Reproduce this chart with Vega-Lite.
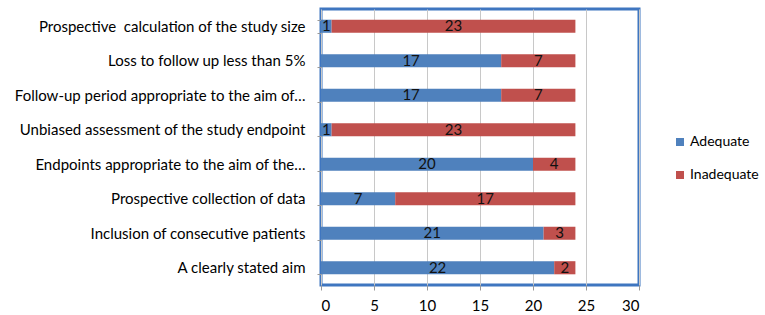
{
  "$schema": "https://vega.github.io/schema/vega-lite/v6.json",
  "autosize": {"type": "none"},
  "width": 318,
  "height": 276,
  "padding": {"left": 321, "top": 9, "right": 126, "bottom": 30},
  "background": "white",
  "config": {
    "font": "Lato",
    "view": {"stroke": "#3f76c0", "strokeWidth": 3},
    "axis": {"labelFont": "Lato", "labelFontSize": 15, "labelColor": "#000", "titleFont": "Lato"},
    "legend": {"labelFont": "Lato", "labelFontSize": 14, "labelColor": "#000"}
  },
  "data": {
    "values": [
      {"item": "Prospective \u00a0calculation of the study size", "rating": "Adequate", "count": 1, "ord": 1},
      {"item": "Prospective \u00a0calculation of the study size", "rating": "Inadequate", "count": 23, "ord": 2},
      {"item": "Loss to follow up less than 5%", "rating": "Adequate", "count": 17, "ord": 1},
      {"item": "Loss to follow up less than 5%", "rating": "Inadequate", "count": 7, "ord": 2},
      {"item": "Follow-up period appropriate to the aim of…", "rating": "Adequate", "count": 17, "ord": 1},
      {"item": "Follow-up period appropriate to the aim of…", "rating": "Inadequate", "count": 7, "ord": 2},
      {"item": "Unbiased assessment of the study endpoint", "rating": "Adequate", "count": 1, "ord": 1},
      {"item": "Unbiased assessment of the study endpoint", "rating": "Inadequate", "count": 23, "ord": 2},
      {"item": "Endpoints appropriate to the aim of the…", "rating": "Adequate", "count": 20, "ord": 1},
      {"item": "Endpoints appropriate to the aim of the…", "rating": "Inadequate", "count": 4, "ord": 2},
      {"item": "Prospective collection of data", "rating": "Adequate", "count": 7, "ord": 1},
      {"item": "Prospective collection of data", "rating": "Inadequate", "count": 17, "ord": 2},
      {"item": "Inclusion of consecutive patients", "rating": "Adequate", "count": 21, "ord": 1},
      {"item": "Inclusion of consecutive patients", "rating": "Inadequate", "count": 3, "ord": 2},
      {"item": "A clearly stated aim", "rating": "Adequate", "count": 22, "ord": 1},
      {"item": "A clearly stated aim", "rating": "Inadequate", "count": 2, "ord": 2}
    ]
  },
  "encoding": {
    "y": {
      "field": "item",
      "type": "nominal",
      "sort": null,
      "scale": {"paddingInner": 0.62, "paddingOuter": 0.31},
      "axis": {
        "title": null,
        "domain": false,
        "tickBand": "extent",
        "tickSize": 4,
        "tickColor": "#999",
        "labelPadding": 12,
        "labelLimit": 400
      }
    }
  },
  "layer": [
    {
      "mark": {"type": "bar"},
      "encoding": {
        "x": {
          "field": "count",
          "type": "quantitative",
          "stack": "zero",
          "scale": {"domain": [0, 30], "nice": false},
          "axis": {
            "title": null,
            "values": [0, 5, 10, 15, 20, 25, 30],
            "domain": false,
            "grid": true,
            "gridColor": "#c8c8c8",
            "tickSize": 5,
            "tickColor": "#999",
            "labelPadding": 8
          }
        },
        "color": {
          "field": "rating",
          "type": "nominal",
          "scale": {"domain": ["Adequate", "Inadequate"], "range": ["#4f81bd", "#c0504d"]},
          "legend": {
            "title": null,
            "orient": "none",
            "legendX": 352,
            "legendY": 126,
            "symbolType": "square",
            "symbolSize": 64,
            "symbolStrokeWidth": 0,
            "rowPadding": 19,
            "labelOffset": 3
          }
        },
        "order": {"field": "ord", "type": "quantitative"}
      }
    },
    {
      "mark": {"type": "text", "fontSize": 15, "color": "#111", "baseline": "middle", "align": "center"},
      "encoding": {
        "x": {"field": "count", "type": "quantitative", "stack": "zero", "bandPosition": 0.5},
        "detail": {"field": "rating"},
        "order": {"field": "ord", "type": "quantitative"},
        "text": {"field": "count", "type": "quantitative"}
      }
    }
  ]
}
